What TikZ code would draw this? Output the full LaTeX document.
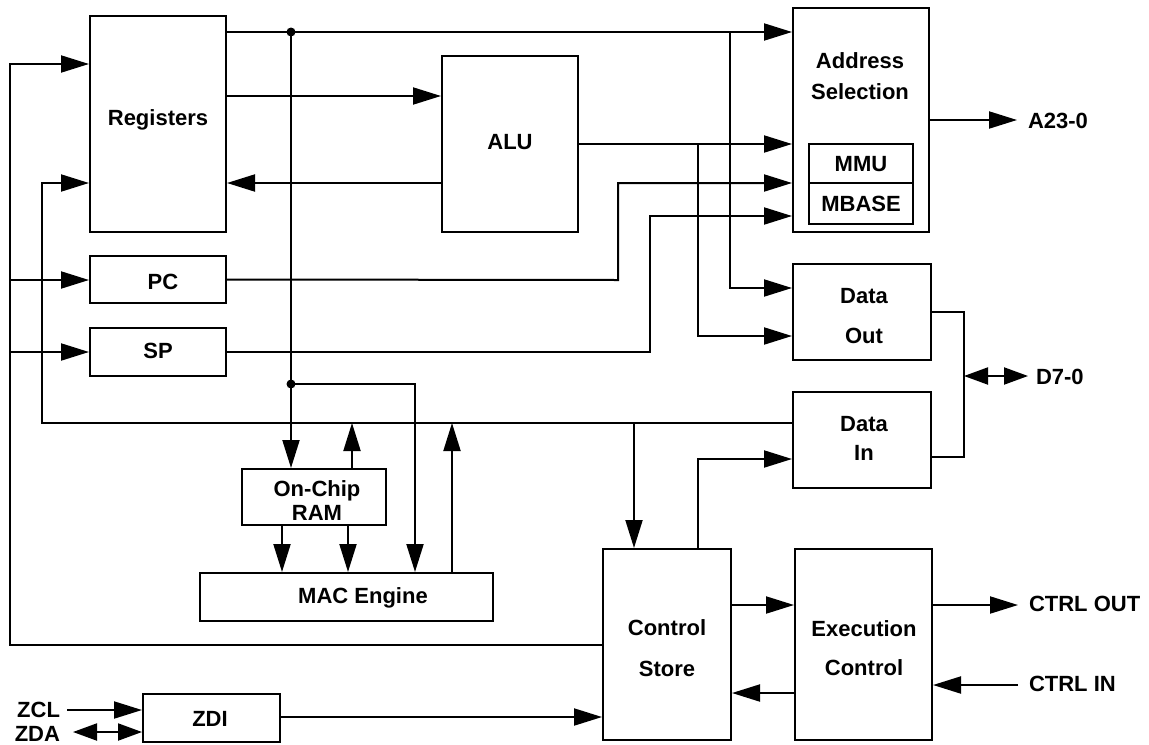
\documentclass[tikz,border=0pt]{standalone}
\usepackage{fontspec}
\setmainfont{Liberation Sans}
\usetikzlibrary{arrows.meta,fit}
\begin{document}
\begin{tikzpicture}[x=0.5pt,y=-0.5pt, line width=1pt,
  box/.style={draw, inner sep=0pt, line width=1pt},
  lbl/.style={font=\bfseries\fontsize{11}{13}\selectfont, inner sep=0pt, align=center},
  arr/.style={-{Triangle[length=14pt,width=8.5pt]}},
  darr/.style={{Triangle[length=12pt,width=8.5pt]}-{Triangle[length=12pt,width=8.5pt]}},
  dot/.style={circle, fill, inner sep=0pt, minimum size=4.5pt}]
\useasboundingbox (0,0) rectangle (1149,744);
% boxes
\node[box, fit={(90,16) (226,232)}] (reg) {};
\node[box, fit={(442,56) (578,232)}] (alu) {};
\node[box, fit={(793,8) (929,232)}] (as) {};
\node[box, fit={(809,144) (913,183)}] (mmu) {};
\node[box, fit={(809,183) (913,224)}] (mbase) {};
\node[box, fit={(90,256) (226,303)}] (pc) {};
\node[box, fit={(90,328) (226,376)}] (sp) {};
\node[box, fit={(793,264) (931,360)}] (dout) {};
\node[box, fit={(793,392) (931,488)}] (din) {};
\node[box, fit={(242,469) (386,525)}] (ram) {};
\node[box, fit={(200,573) (493,621)}] (mac) {};
\node[box, fit={(603,549) (731,740)}] (cs) {};
\node[box, fit={(795,549) (932,740)}] (ec) {};
\node[box, fit={(143,694) (280,742)}] (zdi) {};
% labels
\node[lbl] (tReg) at (158,120) {Registers};
\node[lbl] (tAlu) at (510,142) {ALU};
\node[lbl] (tAs) at (860,76) {Address\\[2.5pt]Selection};
\node[lbl] (tMmu) at (861,164) {MMU};
\node[lbl] (tMbase) at (861,204) {MBASE};
\node[lbl] (tPc) at (163,282) {PC};
\node[lbl] (tSp) at (158,351) {SP};
\node[lbl] (tDout) at (864,316) {Data\\[7pt]Out};
\node[lbl] (tDin) at (864,438) {Data\\[1.5pt]In};
\node[lbl] (tRam) at (317,501) {On-Chip\\[-1pt]RAM};
\node[lbl] (tMac) at (363,598) {MAC Engine};
\node[lbl] (tCs) at (667,648) {Control\\[7.5pt]Store};
\node[lbl] (tEc) at (864,648) {Execution\\[6.5pt]Control};
\node[lbl] (tZdi) at (210,719) {ZDI};
\node[lbl, anchor=west] (tA23) at (1027,121) {A23-0};
\node[lbl, anchor=west] (tD70) at (1035,377) {D7-0};
\node[lbl, anchor=west] (tCo) at (1028,604) {CTRL OUT};
\node[lbl, anchor=west] (tCi) at (1028,684) {CTRL IN};
\node[lbl, anchor=east] (tZcl) at (61,710) {ZCL};
\node[lbl, anchor=east] (tZda) at (61,734) {ZDA};
% junctions and free ends
\node[dot] (d1) at (291,32) {};
\node[dot] (d2) at (291,384) {};
\coordinate (j3) at (730,32);
\coordinate (j4) at (634,423);
\coordinate (j5) at (10,280);
\coordinate (j6) at (10,352);
\coordinate (jd) at (964,376);
\coordinate (ea23) at (1017,120);
\coordinate (ed70) at (1028,376);
\coordinate (eco) at (1018,605);
\coordinate (eci) at (1018,685);
\coordinate (ezcl) at (67,710);
\coordinate (ezda) at (73,732);
% connectors
\draw[arr] (reg.east |- 0,32) -- (as.west |- 0,32);
\draw[arr] (d1.center) -- (d1.center |- ram.north);
\draw[arr] (d2.center) -- (415,384) -- (mac.north -| 415,0);
\draw[arr] (j3) -- (730,288) -- (dout.west |- 0,288);
\draw[arr] (reg.east |- 0,96) -- (alu.west |- 0,96);
\draw[arr] (alu.west |- 0,183) -- (reg.east |- 0,183);
\draw[arr] (alu.east |- 0,144) -- (as.west |- 0,144);
\draw[arr] (698,144) -- (698,336) -- (dout.west |- 0,336);
\draw[arr] (pc.east) -- (618,280) -- (618,183) -- (as.west |- 0,183);
\draw[arr] (sp.east |- 0,352) -- (650,352) -- (650,216) -- (as.west |- 0,216);
\draw[arr] (as.east |- ea23) -- (ea23);
\draw[arr] (cs.west |- 0,645) -- (10,645) -- (10,64) -- (reg.west |- 0,64);
\draw[arr] (j5) -- (pc.west |- j5);
\draw[arr] (j6) -- (sp.west |- j6);
\draw[arr] (din.west |- 0,423) -- (42,423) -- (42,183) -- (reg.west |- 0,183);
\draw[arr] (ram.north -| 352,0) -- (352,423);
\draw[arr] (mac.north -| 452,0) -- (452,423);
\draw[arr] (ram.south -| 282,0) -- (mac.north -| 282,0);
\draw[arr] (ram.south -| 348,0) -- (mac.north -| 348,0);
\draw[arr] (j4) -- (cs.north -| j4);
\draw[arr] (cs.north -| 698,0) -- (698,459) -- (din.west |- 0,459);
\draw (dout.east |- 0,312) -- (964,312) -- (964,457) -- (din.east |- 0,457);
\draw[darr] (jd) -- (ed70);
\draw[arr] (cs.east |- 0,605) -- (ec.west |- 0,605);
\draw[arr] (ec.west |- 0,693) -- (cs.east |- 0,693);
\draw[arr] (ec.east |- eco) -- (eco);
\draw[arr] (eci) -- (ec.east |- eci);
\draw[arr] (zdi.east |- 0,717) -- (cs.west |- 0,717);
\draw[arr] (ezcl) -- (zdi.west |- ezcl);
\draw[darr] (ezda) -- (zdi.west |- ezda);
\end{tikzpicture}
\end{document}
